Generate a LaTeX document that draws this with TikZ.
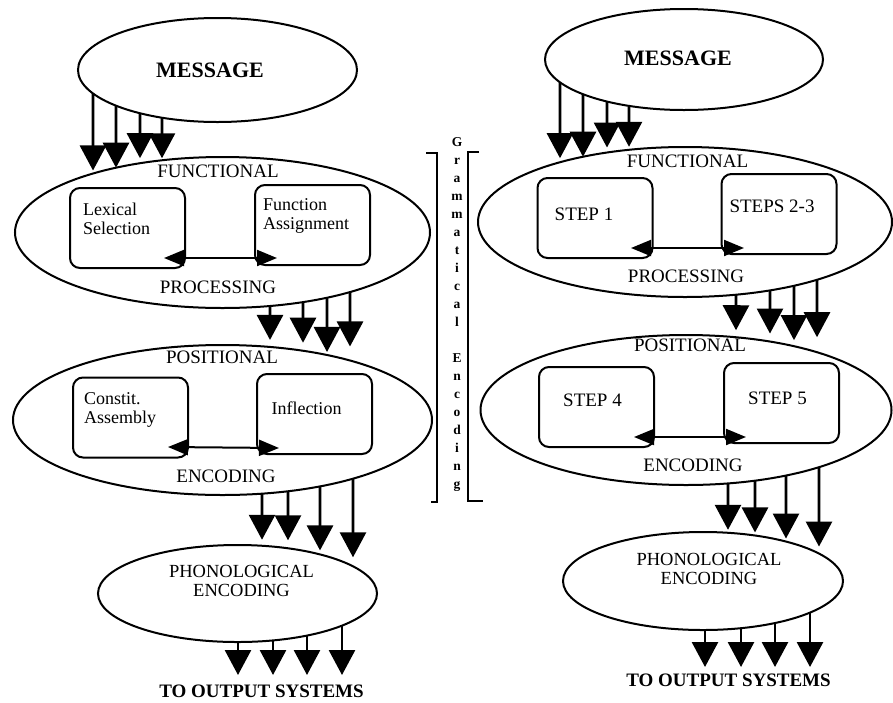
\documentclass[tikz,border=0pt]{standalone}
\usepackage{fontspec}
\setmainfont{Liberation Serif}
\usetikzlibrary{shapes.geometric,arrows.meta,intersections}
\newcommand{\flowarrow}[4]{%
  \path[name path=vv] (#3,0) -- (#3,702);
  \path[name intersections={of=#1p and vv, sort by=vv, name=up}];
  \path[name intersections={of=#2p and vv, sort by=vv, name=lo}];
  \draw[bigarrow, shorten >=#4pt] (up-2) -- (lo-1);
}
\newcommand{\outarrow}[3]{%
  \path[name path=vv] (#2,0) -- (#2,702);
  \path[name intersections={of=#1p and vv, sort by=vv, name=up}];
  \draw[bigarrow] (up-2) -- (up-2 |- #3);
}
\begin{document}
\begin{tikzpicture}[x=1pt,y=-1pt,
  ell/.style={draw, ellipse, line width=2pt, inner sep=0pt},
  sbox/.style={draw, rounded corners=10pt, line width=2pt, minimum width=115pt, minimum height=80pt, inner sep=0pt},
  lab/.style={font=\fontsize{19}{19}\selectfont, inner sep=0pt},
  msgf/.style={font=\fontsize{22}{22}\selectfont\bfseries, inner sep=0pt},
  outf/.style={font=\fontsize{19}{19}\selectfont\bfseries, inner sep=0pt},
  boxtxt/.style={font=\fontsize{18}{19}\selectfont, align=left, inner sep=0pt, anchor=north west},
  inbox/.style={font=\fontsize{18}{19}\selectfont, inner sep=0pt},
  twoline/.style={font=\fontsize{18.5}{18.5}\selectfont, align=center, inner sep=0pt},
  vtext/.style={font=\fontsize{13.5}{18}\selectfont\bfseries, align=center, inner sep=0pt},
  bigarrow/.style={line width=2.8pt, -{Triangle[length=25pt,width=26pt]}},
  darr/.style={line width=2pt, {Triangle[length=20pt,width=16pt]}-{Triangle[length=20pt,width=16pt]}},
  brk/.style={line width=1.6pt}
]
\useasboundingbox (0,0) rectangle (893,702);

% ---------- LEFT ----------
\node[ell, name path=msgLp, minimum width=279pt, minimum height=104pt] (msgL) at (217.5,70) {};
\node[msgf] (msgLt) at (210,70) {MESSAGE};

\node[ell, name path=funLp, minimum width=415pt, minimum height=151pt] (funL) at (222.5,232.5) {};
\node[lab] (funLa) at (218,171) {FUNCTIONAL};
\node[lab] (funLb) at (218,287) {PROCESSING};
\node[sbox] (lexL) at (127.5,228) {};
\node[boxtxt] (lexLt) at (83,203) {Lexical\\Selection};
\node[sbox] (faL) at (312.5,225) {};
\node[boxtxt] (faLt) at (263,198) {Function\\Assignment};
\draw[darr] ([shift={(-22,-11)}]lexL.south east) -- ([shift={(23,-8)}]faL.south west);

\node[ell, name path=posLp, minimum width=419pt, minimum height=150pt] (posL) at (222.5,420) {};
\node[lab] (posLa) at (222,357) {POSITIONAL};
\node[lab] (posLb) at (226,476) {ENCODING};
\node[sbox] (caL) at (130.5,417.5) {};
\node[boxtxt] (caLt) at (84,392) {Constit.\\Assembly};
\node[sbox] (infL) at (314.5,414) {};
\node[inbox] (infLt) at (306.5,408) {Inflection};
\draw[darr] ([shift={(-21,-11.5)}]caL.south east) -- ([shift={(23,-7)}]infL.south west);

\node[ell, name path=phoLp, minimum width=279pt, minimum height=97pt] (phoL) at (237.5,593.5) {};
\node[twoline] (phoLt) at (241.5,581) {PHONOLOGICAL\\ENCODING};

\node[outf] (outL) at (261.5,691) {TO OUTPUT SYSTEMS};
\coordinate (tipL) at (261.5,675);

\flowarrow{msgL}{funL}{93}{3}
\flowarrow{msgL}{funL}{116}{0}
\flowarrow{msgL}{funL}{140}{5}
\flowarrow{msgL}{funL}{162}{2}

\flowarrow{funL}{posL}{270}{7}
\flowarrow{funL}{posL}{303}{8}
\flowarrow{funL}{posL}{327}{3}
\flowarrow{funL}{posL}{350}{14}

\flowarrow{posL}{phoL}{262}{6}
\flowarrow{posL}{phoL}{288}{8}
\flowarrow{posL}{phoL}{320}{4}
\flowarrow{posL}{phoL}{353}{9}

\outarrow{phoL}{238}{tipL}
\outarrow{phoL}{273}{tipL}
\outarrow{phoL}{307}{tipL}
\outarrow{phoL}{342}{tipL}

% ---------- CENTER ----------
\node[vtext] (gram) at (457,315) {G\\r\\a\\m\\m\\a\\t\\i\\c\\a\\l\\[18pt]E\\n\\c\\o\\d\\i\\n\\g};
\draw[brk] (426,153) -- (437,153) -- (437,502) -- (431,502);
\draw[brk] (479,152) -- (468,152) -- (468,501) -- (483,501);

% ---------- RIGHT ----------
\node[ell, name path=msgRp, minimum width=278pt, minimum height=101pt] (msgR) at (684,59.5) {};
\node[msgf] (msgRt) at (678,58.5) {MESSAGE};

\node[ell, name path=funRp, minimum width=414pt, minimum height=150pt] (funR) at (685,222) {};
\node[lab] (funRa) at (687.5,161.5) {FUNCTIONAL};
\node[lab] (funRb) at (686,276.5) {PROCESSING};
\node[sbox] (s1R) at (595,218) {};
\node[lab] (s1Rt) at (584,214) {STEP 1};
\node[sbox] (s23R) at (779,214) {};
\node[lab] (s23Rt) at (772,206.5) {STEPS 2-3};
\draw[darr] ([shift={(-22.5,-11)}]s1R.south east) -- ([shift={(23.5,-7)}]s23R.south west);

\node[ell, name path=posRp, minimum width=411pt, minimum height=150pt] (posR) at (686,410) {};
\node[lab] (posRa) at (690,345) {POSITIONAL};
\node[lab] (posRb) at (693,465) {ENCODING};
\node[sbox] (s4R) at (596.5,407) {};
\node[lab] (s4Rt) at (592.5,400.5) {STEP 4};
\node[sbox] (s5R) at (781.5,403) {};
\node[lab] (s5Rt) at (777.5,398.5) {STEP 5};
\draw[darr] ([shift={(-21,-11)}]s4R.south east) -- ([shift={(23,-7)}]s5R.south west);

\node[ell, name path=phoRp, minimum width=280pt, minimum height=98pt] (phoR) at (703,581) {};
\node[twoline] (phoRt) at (709,569) {PHONOLOGICAL\\ENCODING};

\node[outf] (outR) at (728.5,680) {TO OUTPUT SYSTEMS};
\coordinate (tipR) at (728.5,667);

\flowarrow{msgR}{funR}{560}{4}
\flowarrow{msgR}{funR}{583}{0}
\flowarrow{msgR}{funR}{607}{5}
\flowarrow{msgR}{funR}{629}{3}

\flowarrow{funR}{posR}{736}{7}
\flowarrow{funR}{posR}{770}{8}
\flowarrow{funR}{posR}{794}{6}
\flowarrow{funR}{posR}{817}{15}

\flowarrow{posR}{phoR}{728}{3}
\flowarrow{posR}{phoR}{755}{3}
\flowarrow{posR}{phoR}{786}{3}
\flowarrow{posR}{phoR}{819}{7}

\outarrow{phoR}{705}{tipR}
\outarrow{phoR}{741}{tipR}
\outarrow{phoR}{775}{tipR}
\outarrow{phoR}{810}{tipR}
\end{tikzpicture}
\end{document}
